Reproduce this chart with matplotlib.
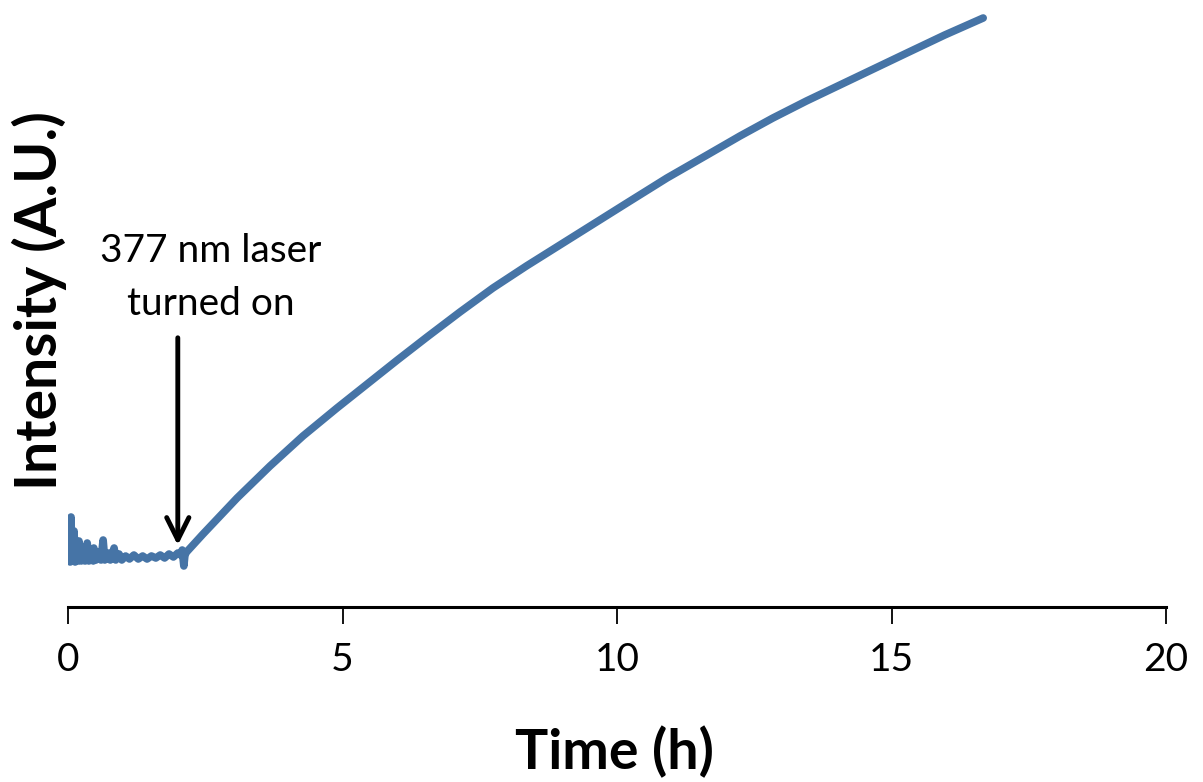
import matplotlib
matplotlib.use("Agg")
import matplotlib.pyplot as plt

# Intensity trace (time in h, intensity in arbitrary units)
# noisy start before the laser is switched on
t_dark = [0.00, 0.02, 0.04, 0.055, 0.07, 0.09, 0.11, 0.13, 0.15, 0.18, 0.20, 0.24,
          0.27, 0.31, 0.35, 0.38, 0.42, 0.46, 0.47, 0.51, 0.56, 0.60, 0.64, 0.67,
          0.73, 0.77, 0.84, 0.87, 0.93, 0.98, 1.05, 1.12, 1.20, 1.28, 1.36, 1.44,
          1.52, 1.60, 1.68, 1.76, 1.84, 1.92, 2.00, 2.05, 2.08, 2.11, 2.13]
i_dark = [47, 60, 45, 90, 46, 70, 76, 45, 66, 46, 66, 46,
          60, 46, 64, 46, 55, 46, 59, 47, 55, 47, 67, 47,
          54, 47, 59, 47, 53, 47, 51, 48, 52, 48, 51, 48,
          51, 49, 52, 49, 53, 50, 54, 52, 57, 41, 52]

# rise after the laser is switched on
t_rise = [2.16, 2.46, 3.08, 3.68, 4.28, 4.90, 5.45, 6.00, 6.54, 7.14, 7.74,
          8.35, 8.96, 9.57, 10.18, 10.91, 11.64, 12.24, 12.84, 13.45, 14.06,
          14.67, 15.28, 15.97, 16.67]
i_rise = [55, 73, 109, 141, 171, 199, 223, 247, 270, 295, 319,
          341, 362, 383, 404, 429, 452, 471, 489, 506, 522,
          538, 554, 572, 589]

time = t_dark + t_rise
intensity = i_dark + i_rise

x_ticks = [0, 5, 10, 15, 20]
laser_on = 2.0

plt.rcParams["font.family"] = ["Lato", "DejaVu Sans"]

fig = plt.figure(figsize=(12.03, 7.82), dpi=100)
ax = fig.add_axes([68 / 1203, 175 / 782, 1098 / 1203, 597 / 782])

ax.plot(time, intensity, color="#4674a6", lw=5.5, solid_joinstyle="round",
        solid_capstyle="round")

ax.set_xlim(0, 20)
ax.set_ylim(0, 597)
ax.set_xticks(x_ticks)
ax.set_xticklabels([str(v) for v in x_ticks])
ax.set_yticks([])
for side in ["left", "right", "top"]:
    ax.spines[side].set_visible(False)
ax.spines["bottom"].set_linewidth(2.2)
ax.tick_params(axis="x", direction="out", length=12, width=1.3, pad=13,
               labelsize=28)

ax.set_xlabel("Time (h)", fontsize=40, fontweight="bold", va="baseline")
ax.xaxis.set_label_coords(0.498, -0.271)
ax.set_ylabel("Intensity (A.U.)", fontsize=41, fontweight="bold",
              va="center", ha="center")
ax.yaxis.set_label_coords(-0.026, 0.514)

# arrow marking when the laser was turned on
ax.annotate("", xy=(laser_on, 59), xytext=(laser_on, 272),
            arrowprops=dict(arrowstyle="->", lw=3.5, color="black",
                            mutation_scale=40))
ax.text(2.59, 345, "377 nm laser", ha="center", va="baseline", fontsize=28)
ax.text(2.60, 292, "turned on", ha="center", va="baseline", fontsize=28)

plt.savefig("out.png", dpi=100)
